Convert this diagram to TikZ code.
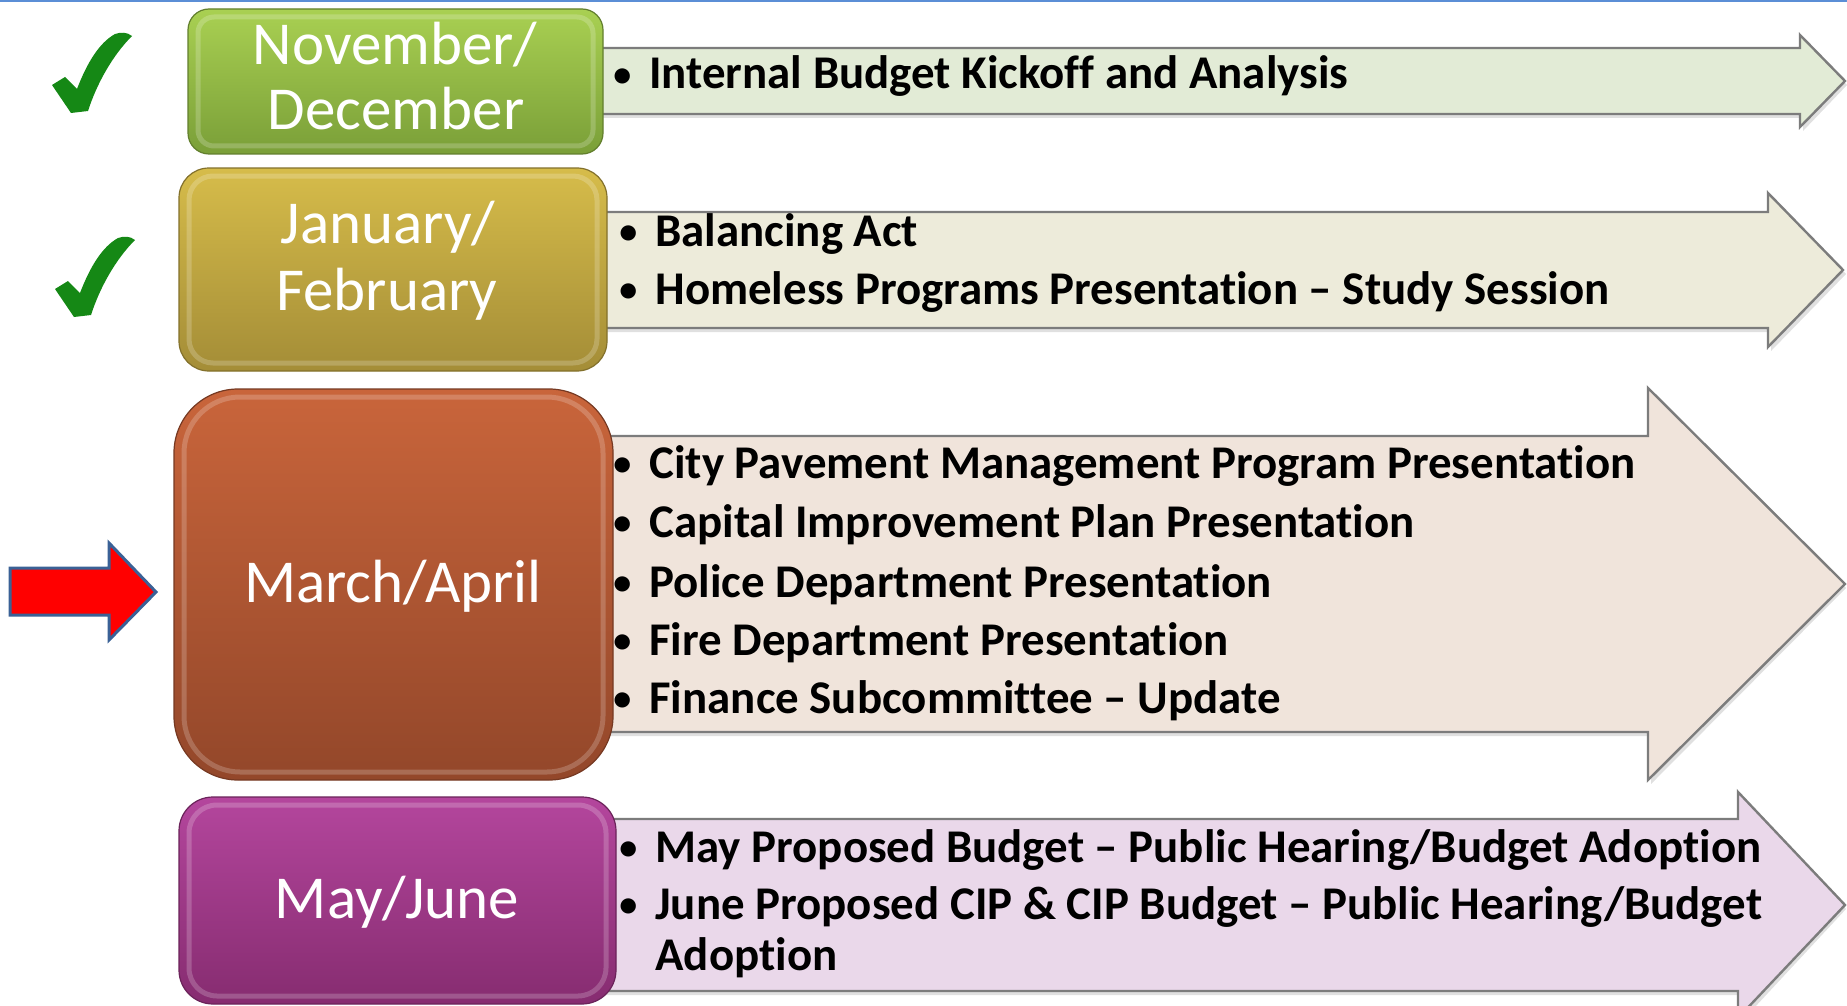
\documentclass[tikz,border=0pt]{standalone}
\usepackage{fontspec}
\setmainfont{Carlito}[Ligatures=NoCommon]
\definecolor{g1t}{HTML}{A9D052}
\definecolor{g1b}{HTML}{7A9F38}
\definecolor{y1t}{HTML}{D6BC4A}
\definecolor{y1b}{HTML}{A48D37}
\definecolor{o1t}{HTML}{C9653B}
\definecolor{o1b}{HTML}{93472A}
\definecolor{p1t}{HTML}{B4469D}
\definecolor{p1b}{HTML}{862C70}
\definecolor{a1}{HTML}{E2EBD6}
\definecolor{a2}{HTML}{EDEBDA}
\definecolor{a3}{HTML}{F0E4DB}
\definecolor{a4}{HTML}{EAD8EA}
\definecolor{arrgray}{HTML}{7C7C7C}
\definecolor{ckg}{HTML}{158815}
\definecolor{arrred}{HTML}{FF0000}
\definecolor{arrblue}{HTML}{3A6196}
\definecolor{topblue}{HTML}{5B8ED6}
\newcommand\itm{\makebox[21pt][l]{\hspace{3pt}\raisebox{1.2pt}{\fontsize{18}{18}\selectfont\textbullet}}}
\begin{document}
\begin{tikzpicture}[x=0.5pt,y=-0.5pt,
  monthtext/.style={text=white, font=\fontsize{30.5}{32}\selectfont, anchor=base, inner sep=0pt},
  itemtext/.style={text=black, font=\bfseries\fontsize{23.45}{26}\selectfont, anchor=base west, inner sep=0pt},
  bigarrow/.style={draw=arrgray, line width=1.2pt, line join=miter},
  arrshadow/.style={fill=black, opacity=0.12},
  gloss/.style={draw=white, opacity=0.2, line width=2.5pt},
  checkmk/.pic={\fill[ckg] (3,52) -- (16,44) -- (28,56) .. controls (38,30) and (50,10) .. (66,1) .. controls (72,-1) and (78,-1) .. (83,3) .. controls (64,22) and (48,50) .. (39,78) -- (22,80) -- cycle;}
]
\useasboundingbox (0,0) rectangle (1847,1006);
\fill[white] (0,0) rectangle (1847,1006);
\fill[topblue] (0,0) rectangle (1847,2.5);

% big arrows (shadows)
\fill[arrshadow] (603,52) -- (1803,52) -- (1803,39) -- (1847,85) -- (1803,131) -- (1803,118) -- (603,118) -- cycle;
\fill[arrshadow] (603,216) -- (1771,216) -- (1771,197) -- (1846,274) -- (1771,351) -- (1771,332) -- (603,332) -- cycle;
\fill[arrshadow] (603,440) -- (1651,440) -- (1651,392) -- (1846,588) -- (1651,784) -- (1651,736) -- (603,736) -- cycle;
\fill[arrshadow] (603,823) -- (1741,823) -- (1741,796) -- (1846,909) -- (1741,1022) -- (1741,995) -- (603,995) -- cycle;
% big arrows
\draw[bigarrow, fill=a1] (600,48) -- (1800,48) -- (1800,35) -- (1845,81) -- (1800,127) -- (1800,114) -- (600,114) -- cycle;
\draw[bigarrow, fill=a2] (600,212) -- (1768,212) -- (1768,193) -- (1843,270) -- (1768,347) -- (1768,328) -- (600,328) -- cycle;
\draw[bigarrow, fill=a3] (600,436) -- (1648,436) -- (1648,388) -- (1845,584) -- (1648,780) -- (1648,732) -- (600,732) -- cycle;
\draw[bigarrow, fill=a4] (600,819) -- (1738,819) -- (1738,792) -- (1845,905) -- (1738,1018) -- (1738,991) -- (600,991) -- cycle;

% month boxes
\path[top color=g1t, bottom color=g1b, draw=g1b!80!black, line width=0.6pt, rounded corners=10.5pt] (188,9) rectangle (603,154);
\draw[gloss, rounded corners=8pt] (198,17) rectangle (593,146);
\path[top color=y1t, bottom color=y1b, draw=y1b!80!black, line width=0.6pt, rounded corners=15pt] (179,168) rectangle (607,371);
\draw[gloss, rounded corners=12pt] (189,176) rectangle (597,363);
\path[top color=o1t, bottom color=o1b, draw=o1b!80!black, line width=0.6pt, rounded corners=32pt] (174,389) rectangle (613,780);
\draw[gloss, rounded corners=28pt] (184,397) rectangle (603,772);
\path[top color=p1t, bottom color=p1b, draw=p1b!80!black, line width=0.6pt, rounded corners=17pt] (179,797) rectangle (616,1004);
\draw[gloss, rounded corners=14pt] (189,805) rectangle (606,996);

% month texts
\node[monthtext] (m1a) at (395,65) {November/};
\node[monthtext] (m1b) at (396,130) {December};
\node[monthtext] (m2a) at (388,243) {January/};
\node[monthtext] (m2b) at (387,310) {February};
\node[monthtext] (m3) at (393,602) {March/April};
\node[monthtext] (m4) at (397,918) {May/June};

% items
\node[itemtext] (i1) at (607,89) {\itm Internal Budget Kickoff and Analysis};
\node[itemtext] (i2a) at (613,246) {\itm Balancing Act};
\node[itemtext] (i2b) at (613,304) {\itm Homeless Programs Presentation – Study Session};
\node[itemtext] (i3a) at (607,478) {\itm City Pavement Management Program Presentation};
\node[itemtext] (i3b) at (607,537) {\itm Capital Improvement Plan Presentation};
\node[itemtext] (i3c) at (607,597) {\itm Police Department Presentation};
\node[itemtext] (i3d) at (607,655) {\itm Fire Department Presentation};
\node[itemtext] (i3e) at (607,713) {\itm Finance Subcommittee – Update};
\node[itemtext] (i4a) at (613,862) {\itm May Proposed Budget – Public Hearing/Budget Adoption};
\node[itemtext] (i4b) at (613,919) {\itm June Proposed CIP \& CIP Budget – Public Hearing/Budget};
\node[itemtext] (i4c) at (655,970) {Adoption};

% checks
\pic at (49,33) {checkmk};
\pic at (52,237) {checkmk};

% red arrow
\draw[fill=arrred, draw=arrblue, line width=1.5pt, line join=miter] (10,568) -- (109,568) -- (109,543) -- (156,592) -- (109,640) -- (109,615) -- (10,615) -- cycle;
\end{tikzpicture}
\end{document}
